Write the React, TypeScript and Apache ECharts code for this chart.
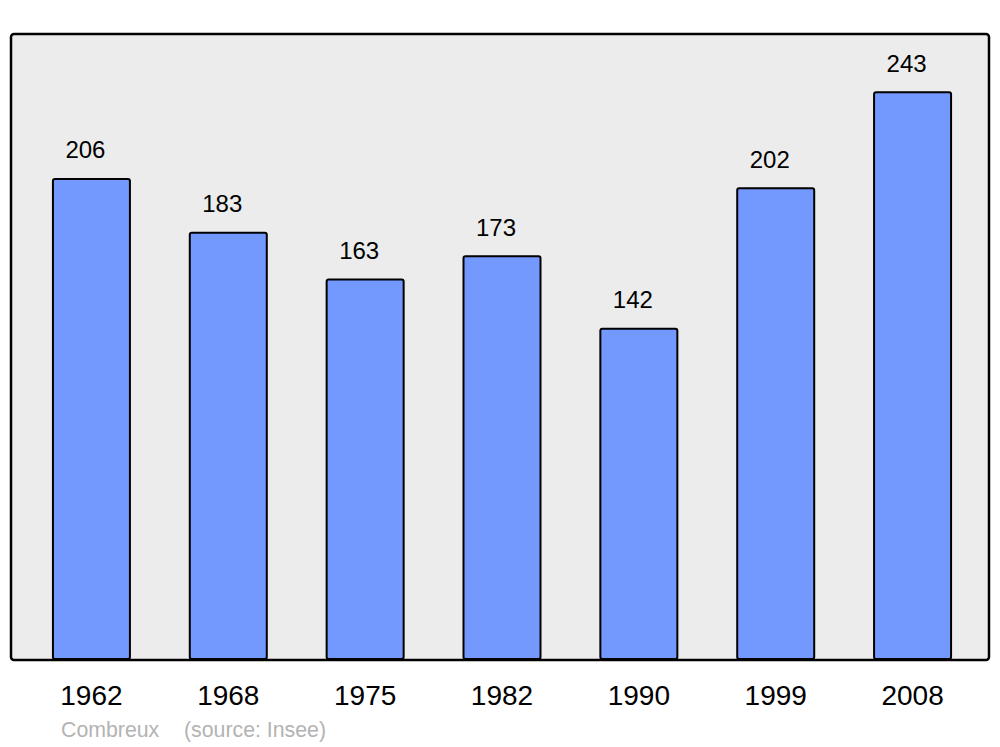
import React, { useEffect, useRef } from "react";
import * as echarts from "echarts";

const years = ["1962", "1968", "1975", "1982", "1990", "1999", "2008"];
const population = [206, 183, 163, 173, 142, 202, 243];
const footerName = "Combreux";
const footerSource = "(source: Insee)";

export default function App() {
  const ref = useRef<HTMLDivElement>(null);
  useEffect(() => {
    if (!ref.current) return;
    const chart = echarts.init(ref.current, undefined, { renderer: "svg" });
    chart.setOption({
      animation: false,
      textStyle: { fontFamily: "Liberation Sans, Arial, sans-serif" },
      graphic: [
        {
          type: "rect",
          z: -10,
          shape: { x: 11, y: 34, width: 978, height: 626, r: 3 },
          style: { fill: "#ececec", stroke: "#000", lineWidth: 2.5 },
        },
        {
          type: "text",
          x: 61,
          y: 730,
          style: {
            text: footerName,
            fill: "#b3b3b3",
            font: "21.3px Liberation Sans, Arial, sans-serif",
            verticalAlign: "middle",
          },
        },
        {
          type: "text",
          x: 184,
          y: 730,
          style: {
            text: footerSource,
            fill: "#b3b3b3",
            font: "21.3px Liberation Sans, Arial, sans-serif",
            verticalAlign: "middle",
          },
        },
      ],
      grid: { left: 23, right: 19, top: 34, bottom: 87, containLabel: false },
      xAxis: {
        type: "category",
        data: years,
        axisLine: { show: false },
        axisTick: { show: false },
        axisLabel: {
          color: "#000",
          fontSize: 28,
          margin: 21,
          fontFamily: "Liberation Sans, Arial, sans-serif",
        },
      },
      yAxis: {
        type: "value",
        min: 0,
        max: 267.5,
        show: false,
        splitLine: { show: false },
      },
      series: [
        {
          type: "bar",
          data: population,
          barWidth: 79,
          itemStyle: {
            color: "#7399ff",
            borderColor: "#000",
            borderWidth: 2,
            borderRadius: 2,
          },
          label: {
            show: true,
            position: "top",
            distance: 16,
            offset: [-6, 0],
            color: "#000",
            fontSize: 24,
            fontFamily: "Liberation Sans, Arial, sans-serif",
          },
        },
      ],
    });
    return () => chart.dispose();
  }, []);
  return (
    <div
      ref={ref}
      style={{ position: "absolute", left: 0, top: 0, width: 1000, height: 747 }}
    />
  );
}
